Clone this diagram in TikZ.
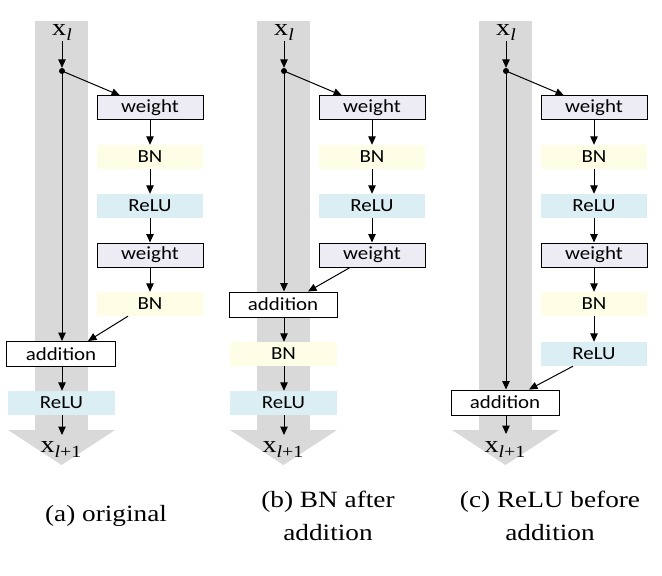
\documentclass[tikz,border=0pt]{standalone}
\usepackage{fontspec}
\usetikzlibrary{arrows.meta}
\newfontfamily\capfont[FakeStretch=1.17]{Liberation Serif}
\newfontfamily\boxfont[FakeStretch=1.13]{Carlito}
\definecolor{colgray}{HTML}{D9D9D9}
\definecolor{wfill}{HTML}{EDEBF3}
\definecolor{bnfill}{HTML}{FEFEE6}
\definecolor{relufill}{HTML}{DAEEF3}
\newcommand{\subtxt}[1]{\raisebox{-5bp}{\fontsize{17bp}{17bp}\selectfont #1}}
\begin{document}
\begin{tikzpicture}[x=1bp,y=-1bp,
  box/.style={rectangle,inner sep=0pt,minimum width=106bp,minimum height=24bp,font=\boxfont\fontsize{18.5bp}{20bp}\selectfont},
  wbox/.style={box,draw=black,line width=1bp,fill=wfill},
  bnbox/.style={box,fill=bnfill},
  rbox/.style={box,fill=relufill},
  abox/.style={box,draw=black,line width=1bp,fill=white,minimum width=108bp,minimum height=25bp},
  lab/.style={inner sep=0pt,anchor=base,font=\capfont\fontsize{24bp}{28bp}\selectfont},
  captxt/.style={inner sep=0pt,anchor=base,font=\capfont\fontsize{23.3bp}{28bp}\selectfont},
  conn/.style={line width=1bp,-{Triangle[length=8.5bp,width=7.5bp]}},
  dotst/.style={circle,fill=black,inner sep=0pt,minimum size=6bp}]
\useasboundingbox (0,0) rectangle (662,576);

% ---------- panel (a) ----------
\fill[colgray] (35,21) rectangle (88,430);
\fill[colgray] (8,430) -- (115,430) -- (61.5,465) -- cycle;
\node[lab] (a-x) at (62,36) {x\subtxt{\itshape l}};
\node[dotst] (a-dot) at (62,71) {};
\node[wbox] (a-w1) at (150,108) {weight};
\node[bnbox] (a-b1) at (150,157) {BN};
\node[rbox] (a-r1) at (150,206) {ReLU};
\node[wbox] (a-w2) at (150,255) {weight};
\node[bnbox] (a-b2) at (150,304) {BN};
\node[abox] (a-add) at (61,354) {addition};
\node[rbox,minimum width=107bp] (a-r3) at (61.5,403) {ReLU};
\node[lab] (a-out) at (61,452) {x\subtxt{{\itshape l}+1}};
\draw[conn] (a-x.south -| a-dot) -- (a-dot.north);
\draw[conn] (a-dot.center) -- ([xshift=-30bp]a-w1.north);
\draw[conn] (a-w1) -- (a-b1);
\draw[conn] (a-b1) -- (a-r1);
\draw[conn] (a-r1) -- (a-w2);
\draw[conn] (a-w2) -- (a-b2);
\draw[conn] (a-dot.center) -- (a-dot |- a-add.north);
\draw[conn] ([xshift=-22bp]a-b2.south) -- ([xshift=27bp]a-add.north);
\draw[conn] (a-add.south -| a-dot) -- (a-r3.north -| a-dot);
\coordinate (a-end) at (62,435);
\draw[conn] (a-r3.south -| a-dot) -- (a-end);

% ---------- panel (b) ----------
\begin{scope}[xshift=222bp]
\fill[colgray] (35,21) rectangle (88,430);
\fill[colgray] (8,430) -- (115,430) -- (61.5,465) -- cycle;
\node[lab] (b-x) at (62,36) {x\subtxt{\itshape l}};
\node[dotst] (b-dot) at (62,71) {};
\node[wbox] (b-w1) at (150,108) {weight};
\node[bnbox] (b-b1) at (150,157) {BN};
\node[rbox] (b-r1) at (150,206) {ReLU};
\node[wbox] (b-w2) at (150,255) {weight};
\node[abox] (b-add) at (61,304.5) {addition};
\node[bnbox,minimum width=107bp] (b-b2) at (61.5,354) {BN};
\node[rbox,minimum width=107bp] (b-r3) at (61.5,403) {ReLU};
\node[lab] (b-out) at (61,452) {x\subtxt{{\itshape l}+1}};
\draw[conn] (b-x.south -| b-dot) -- (b-dot.north);
\draw[conn] (b-dot.center) -- ([xshift=-30bp]b-w1.north);
\draw[conn] (b-w1) -- (b-b1);
\draw[conn] (b-b1) -- (b-r1);
\draw[conn] (b-r1) -- (b-w2);
\draw[conn] (b-dot.center) -- (b-dot |- b-add.north);
\draw[conn] ([xshift=-22bp]b-w2.south) -- ([xshift=25bp]b-add.north);
\draw[conn] (b-add.south -| b-dot) -- (b-b2.north -| b-dot);
\draw[conn] (b-b2.south -| b-dot) -- (b-r3.north -| b-dot);
\coordinate (b-end) at (62,435);
\draw[conn] (b-r3.south -| b-dot) -- (b-end);
\end{scope}

% ---------- panel (c) ----------
\begin{scope}[xshift=444bp]
\fill[colgray] (35,21) rectangle (88,430);
\fill[colgray] (8,430) -- (115,430) -- (61.5,465) -- cycle;
\node[lab] (c-x) at (62,36) {x\subtxt{\itshape l}};
\node[dotst] (c-dot) at (62,71) {};
\node[wbox] (c-w1) at (150,108) {weight};
\node[bnbox] (c-b1) at (150,157) {BN};
\node[rbox] (c-r1) at (150,206) {ReLU};
\node[wbox] (c-w2) at (150,255) {weight};
\node[bnbox] (c-b2) at (150,304) {BN};
\node[rbox] (c-r2) at (150,354) {ReLU};
\node[abox] (c-add) at (61,402.5) {addition};
\node[lab] (c-out) at (61,452) {x\subtxt{{\itshape l}+1}};
\draw[conn] (c-x.south -| c-dot) -- (c-dot.north);
\draw[conn] (c-dot.center) -- ([xshift=-30bp]c-w1.north);
\draw[conn] (c-w1) -- (c-b1);
\draw[conn] (c-b1) -- (c-r1);
\draw[conn] (c-r1) -- (c-w2);
\draw[conn] (c-w2) -- (c-b2);
\draw[conn] (c-b2) -- (c-r2);
\draw[conn] (c-dot.center) -- (c-dot |- c-add.north);
\draw[conn] ([xshift=-21bp]c-r2.south) -- ([xshift=24bp]c-add.north);
\coordinate (c-end) at (62,434);
\draw[conn] (c-add.south -| c-dot) -- (c-end);
\end{scope}

% ---------- captions ----------
\node[captxt] (capa) at (106,521) {(a) original};
\node[captxt] (capb1) at (328,507) {(b) BN after};
\node[captxt] (capb2) at (328,540) {addition};
\node[captxt] (capc1) at (550,507) {(c) ReLU before};
\node[captxt] (capc2) at (550,540) {addition};
\end{tikzpicture}
\end{document}
